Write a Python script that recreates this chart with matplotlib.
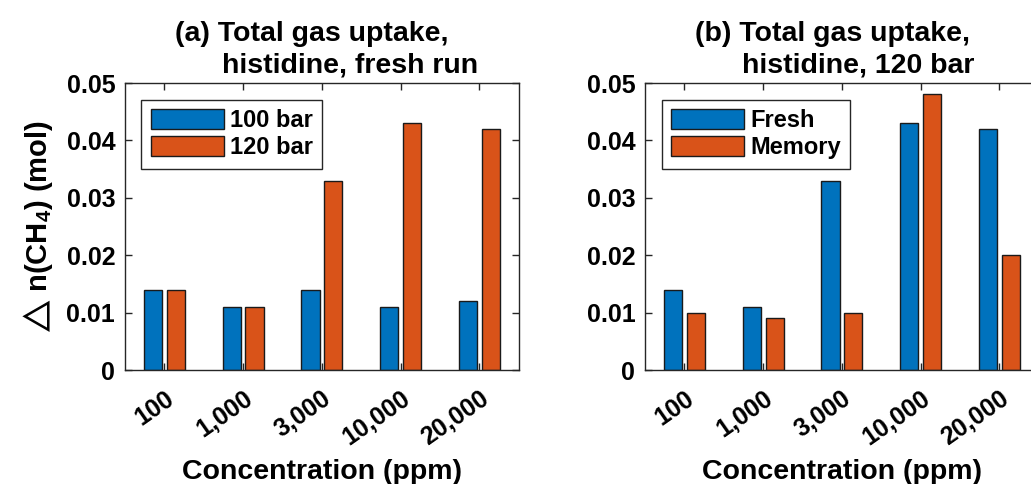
import numpy as np
import matplotlib
matplotlib.use("Agg")
import matplotlib.pyplot as plt
from matplotlib.transforms import ScaledTranslation

plt.rcParams['font.family'] = ['Liberation Sans', 'DejaVu Sans']
plt.rcParams['font.weight'] = 'bold'
plt.rcParams['mathtext.default'] = 'regular'

# Data
concentrations = ["100", "1,000", "3,000", "10,000", "20,000"]
fresh_100bar = [0.014, 0.011, 0.014, 0.011, 0.012]
fresh_120bar = [0.014, 0.011, 0.033, 0.043, 0.042]
memory_120bar = [0.010, 0.009, 0.010, 0.048, 0.020]
y_ticks = [0, 0.01, 0.02, 0.03, 0.04, 0.05]

BLUE = "#0072BD"
ORANGE = "#D95319"
TICK_FS = 18
LABEL_FS = 20.5
LEG_FS = 17

fig = plt.figure(figsize=(10.31, 4.84), dpi=100)
ax_a = fig.add_axes([0.1212, 0.2355, 0.382, 0.593])
ax_b = fig.add_axes([0.6256, 0.2355, 0.382, 0.593])

x = np.arange(1, len(concentrations) + 1)
width = 0.23
offset = 0.145
label_shift = ScaledTranslation(7 / 100, 0, fig.dpi_scale_trans)


def draw_panel(ax, s1, s2, labels, line1, line2):
    ax.bar(x - offset, s1, width, color=BLUE, edgecolor="#1a1a1a", linewidth=1.0, label=labels[0])
    ax.bar(x + offset, s2, width, color=ORANGE, edgecolor="#1a1a1a", linewidth=1.0, label=labels[1])
    ax.set_xlim(0.5, 5.5)
    ax.set_ylim(0, 0.05)
    ax.set_yticks(y_ticks)
    ax.set_yticklabels(["0" if v == 0 else f"{v:.2f}" for v in y_ticks],
                       fontsize=TICK_FS, fontweight='bold')
    ax.set_xticks(x)
    ax.set_xticklabels(concentrations, fontsize=TICK_FS, fontweight='bold', rotation=35,
                       ha='right', va='top', rotation_mode='anchor')
    for lab in ax.get_xticklabels():
        lab.set_transform(lab.get_transform() + label_shift)
    ax.tick_params(direction='in', length=5, width=1.0, top=True, right=True,
                   color="#262626", pad=7)
    ax.tick_params(axis='x', pad=12)
    for sp in ax.spines.values():
        sp.set_linewidth(1.0)
        sp.set_color("#262626")
    ax.set_xlabel("Concentration (ppm)", fontsize=LABEL_FS, fontweight='bold', labelpad=6)
    ax.text(0.127, 1.146, line1, transform=ax.transAxes, ha='left', va='baseline',
            fontsize=LABEL_FS, fontweight='bold')
    ax.text(0.246, 1.035, line2, transform=ax.transAxes, ha='left', va='baseline',
            fontsize=LABEL_FS, fontweight='bold')
    leg = ax.legend(loc='upper left', prop={'weight': 'bold', 'size': LEG_FS},
                    handlelength=3.1, handleheight=0.95, handletextpad=0.25,
                    borderpad=0.4, labelspacing=0.15, fancybox=False,
                    edgecolor="#262626", framealpha=1, borderaxespad=0.7)
    leg.get_frame().set_linewidth(1.0)


draw_panel(ax_a, fresh_100bar, fresh_120bar, ["100 bar", "120 bar"],
           "(a) Total gas uptake,", "histidine, fresh run")
draw_panel(ax_b, fresh_120bar, memory_120bar, ["Fresh", "Memory"],
           "(b) Total gas uptake,", "histidine, 120 bar")

ax_a.set_ylabel(r"$\bigtriangleup$ n(CH$_4$) (mol)", fontsize=21, fontweight='bold', labelpad=8)

fig.savefig("out.png", dpi=100)
